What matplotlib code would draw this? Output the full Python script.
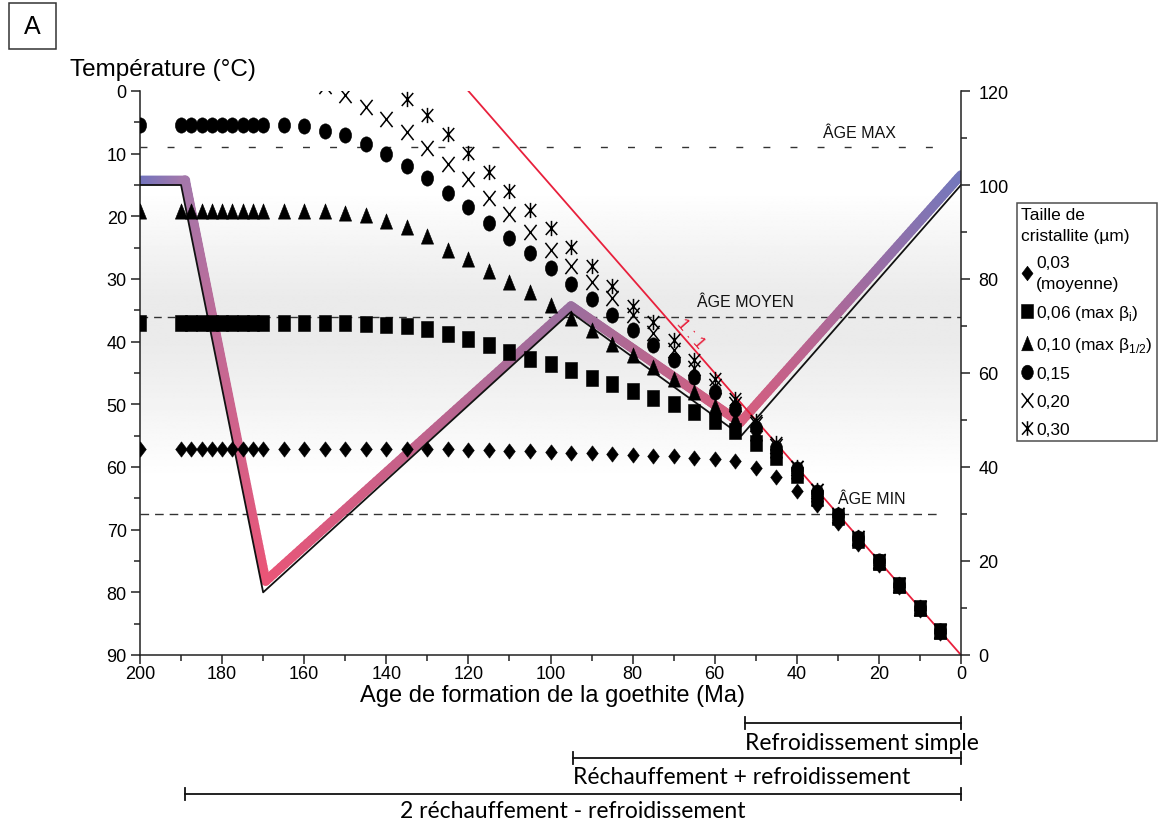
import numpy as np
import matplotlib
matplotlib.use("Agg")
import matplotlib.pyplot as plt
from matplotlib.path import Path
from matplotlib.collections import LineCollection
from matplotlib.colors import to_rgb
from matplotlib.lines import Line2D
from matplotlib.patches import Rectangle
from matplotlib.ticker import MultipleLocator
import matplotlib.transforms as mtransforms

plt.rcParams['font.family'] = ['Liberation Sans', 'DejaVu Sans']
plt.rcParams['lines.scale_dashes'] = False

# ---------------- data ----------------
ages = [200, 190, 187.5, 185, 182.5, 180, 177.5, 175, 172.5, 170,
        165, 160, 155, 150, 145, 140, 135, 130, 125, 120,
        115, 110, 105, 100, 95, 90, 85, 80, 75, 70,
        65, 60, 55, 50, 45, 40, 35, 30, 25, 20, 15, 10, 5]

t_003 = [57.1, 57.1, 57.1, 57.1, 57.1, 57.1, 57.1, 57.1, 57.1, 57.1,
         57.1, 57.1, 57.1, 57.1, 57.1, 57.1, 57.1, 57.2, 57.2, 57.3,
         57.3, 57.4, 57.5, 57.6, 57.7, 57.8, 57.9, 58.1, 58.3, 58.3,
         58.5, 58.7, 59.0, 60.1, 61.6, 63.9, 66.0, 69.0, 72.3, 75.6, 79.2, 82.8, 86.5]

t_006 = [37.1, 37.1, 37.1, 37.1, 37.1, 37.1, 37.1, 37.1, 37.1, 37.1,
         37.1, 37.1, 37.1, 37.1, 37.2, 37.3, 37.5, 38.0, 38.8, 39.6,
         40.6, 41.7, 42.8, 43.6, 44.6, 45.8, 46.8, 47.8, 49.0, 50.0,
         51.3, 52.7, 54.2, 56.2, 58.4, 61.3, 64.9, 68.0, 71.6, 75.1, 78.8, 82.5, 86.2]

t_010 = [19.1, 19.1, 19.1, 19.1, 19.1, 19.1, 19.1, 19.1, 19.1, 19.1,
         19.1, 19.1, 19.2, 19.4, 19.8, 20.8, 21.7, 23.1, 25.3, 26.8,
         28.7, 30.4, 32.1, 34.2, 36.3, 38.2, 40.3, 42.1, 44.0, 46.0,
         48.1, 50.2, 52.3, 54.6, 57.3, 60.6, 64.3, 67.8, 71.4, 75.1, 78.8, 82.5, 86.2]

t_015 = [5.5, 5.5, 5.5, 5.5, 5.5, 5.5, 5.5, 5.5, 5.5, 5.5,
         5.5, 5.6, 6.4, 7.1, 8.5, 10.1, 12.0, 13.9, 16.3, 18.5,
         21.0, 23.5, 25.9, 28.3, 30.8, 33.2, 35.7, 38.1, 40.6, 43.0,
         45.6, 48.1, 50.8, 53.7, 56.9, 60.3, 64.0, 67.7, 71.3, 75.0, 78.8, 82.5, 86.2]

t_020 = [np.nan, np.nan, np.nan, np.nan, np.nan, np.nan, np.nan, np.nan, np.nan, np.nan,
         np.nan, np.nan, -0.8, 0.7, 2.5, 4.5, 6.6, 9.1, 11.6, 14.1,
         17.0, 19.7, 22.5, 25.3, 27.9, 30.5, 33.0, 35.8, 38.6, 41.3,
         44.2, 47.0, 50.0, 53.2, 56.6, 60.2, 63.9, 67.6, 71.3, 75.0, 78.8, 82.5, 86.2]

t_030 = [np.nan, np.nan, np.nan, np.nan, np.nan, np.nan, np.nan, np.nan, np.nan, np.nan,
         np.nan, np.nan, np.nan, np.nan, np.nan, np.nan, 1.2, 3.9, 6.9, 9.9,
         12.9, 15.9, 19.0, 21.9, 24.9, 28.0, 31.1, 34.3, 36.9, 39.7,
         43.0, 46.0, 49.1, 52.6, 56.2, 60.0, 63.7, 67.5, 71.2, 75.0, 78.7, 82.4, 86.2]

series_labels = ["0,03\n(moyenne)", "0,06 (max β$_\\mathregular{i}$)",
                 "0,10 (max β$_\\mathregular{1/2}$)", "0,15", "0,20", "0,30"]

# thermal history (thin black) and shifted coloured band
hist_age = [200, 190, 170, 95.1, 53.5, 0]
hist_temp = [15.0, 15.0, 80.0, 35.3, 55.0, 15.0]
band_age = [200, 189, 169.4, 95.0, 53.8, 0]
band_temp = [14.2, 14.2, 78.2, 34.3, 52.9, 13.4]

# reference lines (temperature) and labels
ref_temp = [9.0, 36.0, 67.5]
ref_end_age = [5, 0, 5]
ref_names = ["ÂGE MAX", "ÂGE MOYEN", "ÂGE MIN"]
ref_label_age = [33.6, 64.3, 30.0]

# 1:1 line in right-axis units
line11_x = [0, 120]
line11_y = [0, 120]

# periods under the axis
period_names = ["Refroidissement simple", "Réchauffement + refroidissement",
                "2 réchauffement - refroidissement"]
period_start = [52.6, 94.5, 189.0]
period_end = [0, 0, 0]

# ---------------- figure ----------------
W, H = 1163, 829
fig = plt.figure(figsize=(W / 100, H / 100), dpi=100)
ax = fig.add_axes([140 / W, 1 - 656 / H, 821 / W, 564 / H])
ax.set_xlim(200, 0)
ax.set_ylim(90, 0)
ax.set_autoscale_on(False)
ax2 = ax.twinx()
ax2.set_ylim(0, 120)

# grey background gradient
gt = np.linspace(0, 90, 500)
gv = np.interp(gt, [0, 16, 25, 33, 40, 48, 56, 62, 90],
               [1, 1, 0.955, 0.92, 0.92, 0.945, 0.978, 1, 1])
img = np.repeat(gv[:, None], 2, axis=1)
ax.imshow(img, cmap='gray', vmin=0, vmax=1, extent=[200, 0, 90, 0],
          origin='upper', aspect='auto', zorder=0, interpolation='bilinear')

# coloured thick band (colour gradient along each segment)
vcols = ['#6f73bf', '#a478ab', '#ea5577', '#9a6f9f', '#d95c7c', '#7478bc']
segs, cols = [], []
for i in range(len(band_age) - 1):
    c0, c1 = np.array(to_rgb(vcols[i])), np.array(to_rgb(vcols[i + 1]))
    n = 80
    s = np.linspace(0, 1, n + 1)
    xs = band_age[i] + (band_age[i + 1] - band_age[i]) * s
    ys = band_temp[i] + (band_temp[i + 1] - band_temp[i]) * s
    for k in range(n):
        segs.append([(xs[k], ys[k]), (xs[k + 1], ys[k + 1])])
        cols.append(c0 + (c1 - c0) * (s[k] + s[k + 1]) / 2)
lc = LineCollection(segs, colors=cols, linewidths=6.8, capstyle='round',
                    joinstyle='round', zorder=2)
ax.add_collection(lc)
ax.plot(hist_age, hist_temp, color='#111111', lw=1.3, zorder=3)

# dashed reference lines
dash_styles = [(5, 14.5), (5.5, 4.3), (6.2, 4.3)]
for T, e, nm, la, ds in zip(ref_temp, ref_end_age, ref_names, ref_label_age, dash_styles):
    ax.plot([200, e], [T, T], color='#333333', lw=1.0, dashes=ds, zorder=1.5)
    ax.text(la, T - 1.2, nm, fontsize=11.5, color='#111111', ha='left', va='bottom', zorder=5)

# 1:1 line (drawn through the right axis scale, below markers)
ax.plot(line11_x, line11_y, color='#e8203c', lw=1.3, transform=ax2.transData, zorder=2.5)
ax.text(65.8, 38.6, "1 : 1", color='#e8203c', fontsize=12.5, rotation=-48.9,
        ha='center', va='center', rotation_mode='anchor', zorder=5)

# custom markers (slightly taller than wide)
def closed(v):
    return Path(v + [v[0]], [Path.MOVETO] + [Path.LINETO] * (len(v) - 1) + [Path.CLOSEPOLY])

m_diamond = closed([(0, 1), (0.76, 0), (0, -1), (-0.76, 0)])
m_square = closed([(-0.8, -1), (0.8, -1), (0.8, 1), (-0.8, 1)])
m_tri = closed([(0, 1), (0.8, -1), (-0.8, -1)])
m_circ = Path.unit_circle().transformed(mtransforms.Affine2D().scale(0.8, 1))
m_x = Path([(-0.8, -1), (0.8, 1), (-0.8, 1), (0.8, -1)],
           [Path.MOVETO, Path.LINETO, Path.MOVETO, Path.LINETO])
m_star = Path([(0, -1), (0, 1), (-0.75, -0.85), (0.75, 0.85), (-0.75, 0.85), (0.75, -0.85)],
              [Path.MOVETO, Path.LINETO] * 3)

series = [t_003, t_006, t_010, t_015, t_020, t_030]
markers = [m_diamond, m_square, m_tri, m_circ, m_x, m_star]
filled = [True, True, True, True, False, False]
handles = []
for vals, mk, fl in zip(series, markers, filled):
    kw = dict(ls='none', marker=mk, ms=11, mec='black',
              mfc='black' if fl else 'none', mew=0.4 if fl else 1.1)
    ax.plot(ages, vals, zorder=4, **kw)
    hk = dict(kw)
    hk['ms'] = 10.5
    handles.append(Line2D([], [], **hk))

# axes styling
for sp in ['top', 'right']:
    ax.spines[sp].set_visible(False)
for sp in ['top', 'left', 'bottom']:
    ax2.spines[sp].set_visible(False)
for a in (ax, ax2):
    for sp in a.spines.values():
        sp.set_linewidth(1.1)
        sp.set_color('#222222')
ax.xaxis.set_major_locator(MultipleLocator(20))
ax.xaxis.set_minor_locator(MultipleLocator(10))
ax.yaxis.set_major_locator(MultipleLocator(10))
ax.yaxis.set_minor_locator(MultipleLocator(5))
ax2.yaxis.set_major_locator(MultipleLocator(20))
ax2.yaxis.set_minor_locator(MultipleLocator(10))
for a in (ax, ax2):
    a.tick_params(which='major', direction='out', length=6.5, width=1.1,
                  labelsize=13, color='#222222')
    a.tick_params(which='minor', direction='out', length=4, width=1.1, color='#222222')
ax.tick_params(axis='x', pad=1)
ax.tick_params(axis='y', pad=3)
ax2.tick_params(axis='y', pad=6)

# axis titles
fig.text(70 / W, 1 - 70 / H, "Température (°C)", fontsize=17.5, ha='left', va='center')
fig.text(552 / W, 1 - 696 / H, "Age de formation de la goethite (Ma)", fontsize=17,
         ha='center', va='center')

# panel letter
fig.patches.append(Rectangle((9 / W, 1 - 50 / H), 47 / W, 46 / H, transform=fig.transFigure,
                             fill=False, ec='#333333', lw=1.1))
fig.text(32.5 / W, 1 - 27 / H, "A", fontsize=18, ha='center', va='center')

# legend
leg = fig.legend(handles, series_labels, loc='upper left',
                 bbox_to_anchor=(1017 / W, 1 - 204 / H), bbox_transform=fig.transFigure,
                 title="Taille de\ncristallite (µm)", alignment='left',
                 fontsize=12.5, title_fontsize=12.5, frameon=True, fancybox=False,
                 edgecolor='#222222', handlelength=0.7, handletextpad=0.15,
                 borderpad=0.25, labelspacing=0.72, borderaxespad=0)
leg.get_frame().set_linewidth(1.1)
leg.get_title().set_linespacing(1.45)
leg.get_texts()[0].set_linespacing(1.45)

# period bars below the axis
btr = mtransforms.blended_transform_factory(ax.transData, fig.transFigure)
bar_y = [724, 759, 795]
txt_y = [744, 778, 812]
for i, (nm, s0, s1) in enumerate(zip(period_names, period_start, period_end)):
    yb = 1 - bar_y[i] / H
    ax.plot([s0, s1], [yb, yb], color='#111111', lw=1.3, transform=btr, clip_on=False)
    for xe in (s0, s1):
        ax.plot([xe, xe], [yb - 6 / H, yb + 6 / H], color='#111111', lw=1.3,
                transform=btr, clip_on=False)
    yt = 1 - txt_y[i] / H
    if i < 2:
        ax.text(s0, yt, nm, transform=btr, fontsize=16.5, ha='left', va='center',
                family=['Lato', 'DejaVu Sans'])
    else:
        ax.text((s0 + s1) / 2, yt, nm, transform=btr, fontsize=16.5, ha='center',
                va='center', family=['Lato', 'DejaVu Sans'])

fig.savefig("out.png", dpi=100)
